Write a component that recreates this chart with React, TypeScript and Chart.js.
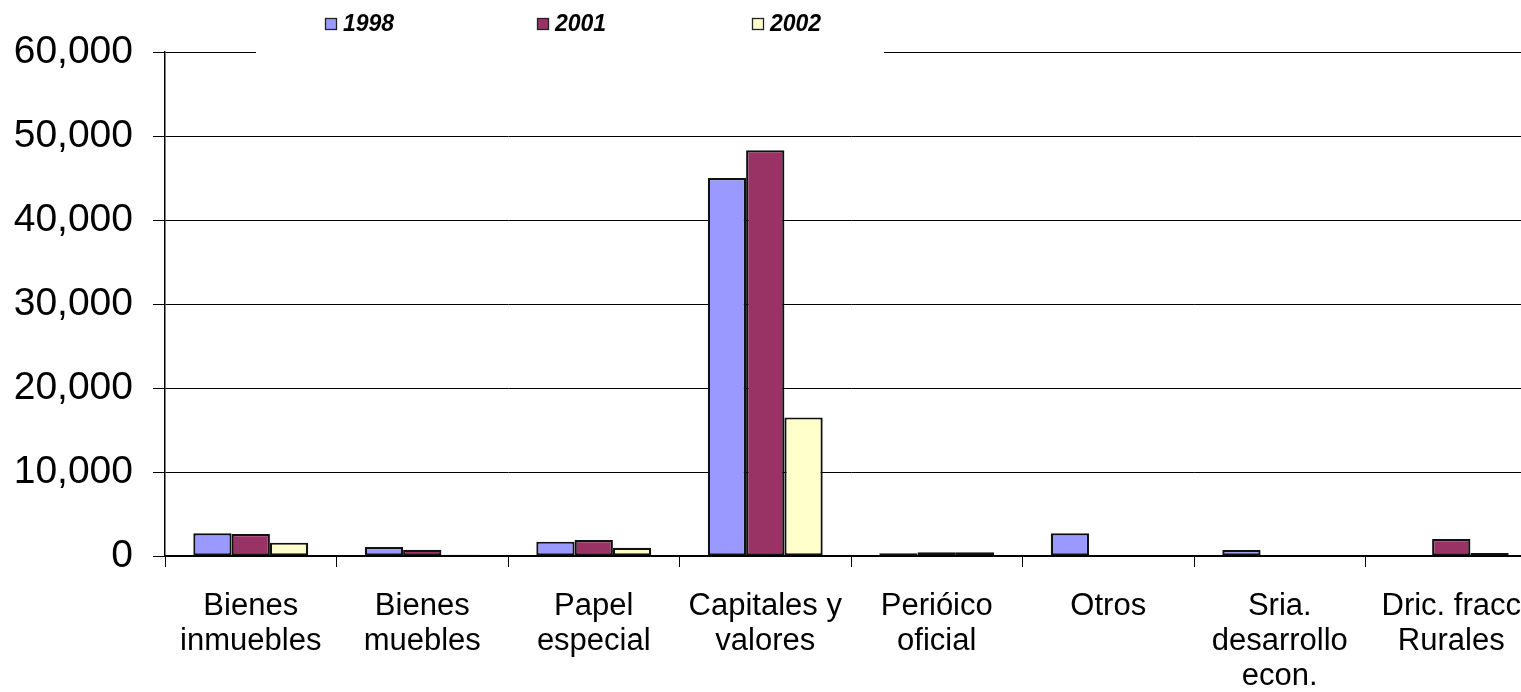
import React, { useEffect, useRef } from "react";
import { Chart, registerables } from "chart.js";

Chart.register(...registerables);

const categories: string[][] = [
  ["Bienes", "inmuebles"],
  ["Bienes", "muebles"],
  ["Papel", "especial"],
  ["Capitales y", "valores"],
  ["Perióico", "oficial"],
  ["Otros"],
  ["Sria.", "desarrollo", "econ."],
  ["Dric. fracc", "Rurales"],
];

const seriesLabels = ["1998", "2001", "2002"];
const values1998: (number | null)[] = [2700, 1070, 1710, 45000, 320, 2700, 710, null];
const values2001: (number | null)[] = [2620, 750, 1900, 48300, 440, null, null, 2020];
const values2002: (number | null)[] = [1590, 160, 990, 16500, 440, null, null, 360];
const seriesColors = ["#9999FF", "#993366", "#FFFFCC"];

const yMin = 0;
const yMax = 60000;
const yStep = 10000;

const FONT = "'Liberation Sans', Arial, sans-serif";

const legendPlugin = {
  id: "customLegend",
  afterDraw(chart: any) {
    const ctx = chart.ctx;
    ctx.save();
    // white legend background that interrupts the top gridline
    ctx.fillStyle = "#ffffff";
    ctx.fillRect(256, 0, 628, chart.chartArea.top + 3);
    const xs = [325, 537, 752];
    const cy = 24;
    ctx.font = `italic bold 23px ${FONT}`;
    ctx.textBaseline = "middle";
    ctx.textAlign = "left";
    chart.data.datasets.forEach((ds: any, i: number) => {
      const x = xs[i];
      ctx.fillStyle = ds.backgroundColor;
      ctx.fillRect(x, cy - 6, 12, 12);
      ctx.strokeStyle = "#222";
      ctx.lineWidth = 1.3;
      ctx.strokeRect(x + 0.5, cy - 5.5, 11, 11);
      ctx.fillStyle = "#000";
      ctx.fillText(ds.label, x + 18, cy + 1);
    });
    ctx.restore();
  },
};

export default function App() {
  const canvasRef = useRef<HTMLCanvasElement | null>(null);

  useEffect(() => {
    document.body.style.margin = "0";
    document.body.style.overflow = "hidden";
    const canvas = canvasRef.current;
    if (!canvas) return;
    const allValues = [values1998, values2001, values2002];
    const chart = new Chart(canvas, {
      type: "bar",
      data: {
        labels: categories,
        datasets: allValues.map((vals, i) => ({
          label: seriesLabels[i],
          data: vals,
          backgroundColor: seriesColors[i],
          borderColor: "#111",
          borderWidth: 2.2,
          borderSkipped: false,
          categoryPercentage: 0.67,
          barPercentage: 1.0,
        })),
      },
      options: {
        animation: false,
        responsive: false,
        maintainAspectRatio: false,
        devicePixelRatio: 1,
        layout: { padding: { top: 52, left: 0, right: 0, bottom: 0 } },
        plugins: {
          legend: { display: false },
          tooltip: { enabled: false },
          title: { display: false },
        },
        scales: {
          x: {
            grid: {
              offset: true,
              drawOnChartArea: false,
              drawTicks: true,
              tickLength: 11,
              color: "#000",
              lineWidth: 1,
            },
            border: { color: "#000", width: 1.5 },
            ticks: {
              color: "#000",
              padding: 22,
              maxRotation: 0,
              autoSkip: false,
              font: { family: FONT, size: 31, lineHeight: 1.13 },
            },
            afterFit(scale: any) {
              scale.height = 136;
              scale.paddingLeft = 0;
              scale.paddingRight = 0;
            },
          },
          y: {
            min: yMin,
            max: yMax,
            grid: {
              color: "#000",
              lineWidth: 1,
              drawTicks: true,
              tickLength: 12,
            },
            border: { color: "#000", width: 1.5 },
            ticks: {
              stepSize: yStep,
              color: "#000",
              padding: 20,
              font: { family: FONT, size: 39 },
              callback: (v: any) => Number(v).toLocaleString("en-US"),
            },
            afterFit(scale: any) {
              scale.width = 165;
            },
          },
        },
      },
      plugins: [legendPlugin],
    });
    return () => chart.destroy();
  }, []);

  return (
    <div
      style={{
        position: "fixed",
        left: 0,
        top: 0,
        width: 1521,
        height: 692,
        overflow: "hidden",
        background: "#fff",
      }}
    >
      <canvas
        ref={canvasRef}
        width={1537}
        height={692}
        style={{ width: 1537, height: 692, display: "block" }}
      />
    </div>
  );
}
